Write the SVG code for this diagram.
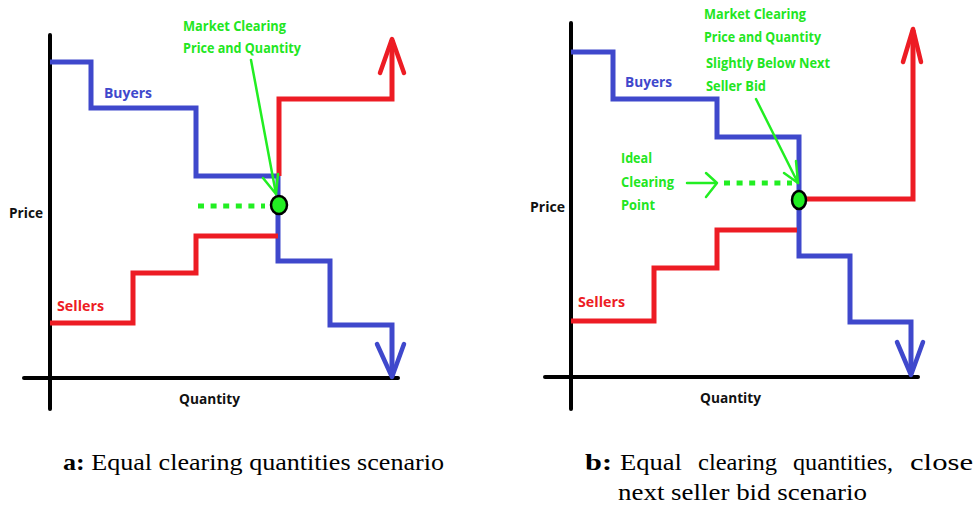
<svg xmlns="http://www.w3.org/2000/svg" width="976" height="505" viewBox="0 0 976 505">
<style>
.axis{stroke:#000;stroke-width:4;fill:none;stroke-linecap:round}
.buy{stroke:#3f48cc;stroke-width:5;fill:none;stroke-linejoin:miter}
.sell{stroke:#ed1c24;stroke-width:5;fill:none;stroke-linejoin:miter}
.ahb{stroke:#3f48cc;stroke-width:4.5;fill:none;stroke-linecap:round;stroke-linejoin:round}
.ahr{stroke:#ed1c24;stroke-width:4.5;fill:none;stroke-linecap:round;stroke-linejoin:round}
.dots{stroke:#22ee22;stroke-width:5;stroke-dasharray:6 6.6;fill:none}
.gar{stroke:#22ee22;stroke-width:2.5;fill:none;stroke-linecap:round;stroke-linejoin:round}
.pt{fill:#22ee22;stroke:#000;stroke-width:2.5}
.lbl{font-family:"Open Sans","Liberation Sans",sans-serif;font-weight:bold;font-size:15px}
.g{fill:#22e622}
.b{fill:#3f48cc}
.r{fill:#ed1c24}
.k{fill:#111}
.cap{font-family:"Liberation Serif","Times New Roman",serif;font-size:24px;fill:#000}
.bd{font-weight:bold}
</style>
<g id="panel-a">
  <g id="a-axes">
    <line class="axis" x1="50" y1="35" x2="50" y2="409"/>
    <line class="axis" x1="24" y1="378" x2="398" y2="378"/>
  </g>
  <g id="a-buyers">
    <polyline class="buy" points="50,62 91,62 91,108 196,108 196,176 278,176 278,261 330,261 330,325 392,325 392,376"/>
    <polyline class="ahb" points="377,344 392,377 404,344"/>
    <text class="lbl b" x="104" y="98" textLength="48" lengthAdjust="spacingAndGlyphs">Buyers</text>
  </g>
  <g id="a-sellers">
    <polyline class="sell" points="50,323 133,323 133,273 196,273 196,236 278,236"/>
    <polyline class="sell" points="279,176 279,99 392,99 392,40"/>
    <polyline class="ahr" points="380,73 392,39 404,73"/>
    <text class="lbl r" x="57" y="311" textLength="47" lengthAdjust="spacingAndGlyphs">Sellers</text>
  </g>
  <g id="a-labels">
    <text class="lbl k" x="9" y="218" textLength="34" lengthAdjust="spacingAndGlyphs">Price</text>
    <text class="lbl k" x="179" y="404" textLength="61" lengthAdjust="spacingAndGlyphs">Quantity</text>
  </g>
  <g id="a-clearing">
    <line class="dots" x1="198" y1="206" x2="265" y2="206"/>
    <ellipse class="pt" cx="279" cy="205" rx="8" ry="9"/>
    <line class="gar" x1="251" y1="60" x2="276" y2="194"/>
    <polyline class="gar" points="263,178 276,194 278,174"/>
    <text class="lbl g" x="183" y="31" textLength="103" lengthAdjust="spacingAndGlyphs">Market Clearing</text>
    <text class="lbl g" x="183" y="53" textLength="118" lengthAdjust="spacingAndGlyphs">Price and Quantity</text>
  </g>
</g>
<g id="panel-b">
  <g id="b-axes">
    <line class="axis" x1="571" y1="23" x2="571" y2="409"/>
    <line class="axis" x1="545" y1="377" x2="918" y2="377"/>
  </g>
  <g id="b-buyers">
    <polyline class="buy" points="571,52 613,52 613,99 717,99 717,137 799,137 799,256 850,256 850,322 911,322 911,374"/>
    <polyline class="ahb" points="897,342 911,375 923,342"/>
    <text class="lbl b" x="625" y="87" textLength="47" lengthAdjust="spacingAndGlyphs">Buyers</text>
  </g>
  <g id="b-sellers">
    <polyline class="sell" points="571,321 654,321 654,268 717,268 717,230 797,230"/>
    <polyline class="sell" points="805,199 913,199 913,30"/>
    <polyline class="ahr" points="903,62 913,29 921,62"/>
    <text class="lbl r" x="578" y="307" textLength="47" lengthAdjust="spacingAndGlyphs">Sellers</text>
  </g>
  <g id="b-labels">
    <text class="lbl k" x="530" y="212" textLength="35" lengthAdjust="spacingAndGlyphs">Price</text>
    <text class="lbl k" x="700" y="403" textLength="61" lengthAdjust="spacingAndGlyphs">Quantity</text>
  </g>
  <g id="b-clearing">
    <line class="dots" x1="724" y1="183" x2="792" y2="183"/>
    <ellipse class="pt" cx="799" cy="200" rx="7" ry="9"/>
    <line class="gar" x1="756" y1="99" x2="798" y2="183"/>
    <polyline class="gar" points="784,173 798,183 796,161"/>
    <line class="gar" x1="687" y1="183" x2="716" y2="183"/>
    <polyline class="gar" points="706,173 717,183 706,197"/>
    <text class="lbl g" x="704" y="19" textLength="102" lengthAdjust="spacingAndGlyphs">Market Clearing</text>
    <text class="lbl g" x="704" y="42" textLength="117" lengthAdjust="spacingAndGlyphs">Price and Quantity</text>
    <text class="lbl g" x="706" y="68" textLength="124" lengthAdjust="spacingAndGlyphs">Slightly Below Next</text>
    <text class="lbl g" x="706" y="91" textLength="60" lengthAdjust="spacingAndGlyphs">Seller Bid</text>
    <text class="lbl g" x="621" y="163" textLength="31" lengthAdjust="spacingAndGlyphs">Ideal</text>
    <text class="lbl g" x="621" y="187" textLength="53" lengthAdjust="spacingAndGlyphs">Clearing</text>
    <text class="lbl g" x="621" y="210" textLength="34" lengthAdjust="spacingAndGlyphs">Point</text>
  </g>
</g>
<g id="captions">
  <text class="cap" x="63" y="470" textLength="381" lengthAdjust="spacingAndGlyphs"><tspan class="bd">a:</tspan> Equal clearing quantities scenario</text>
  <text class="cap bd" x="585" y="470" textLength="27" lengthAdjust="spacingAndGlyphs">b:</text>
  <text class="cap" x="620" y="470" textLength="62" lengthAdjust="spacingAndGlyphs">Equal</text>
  <text class="cap" x="698" y="470" textLength="79" lengthAdjust="spacingAndGlyphs">clearing</text>
  <text class="cap" x="793" y="470" textLength="100" lengthAdjust="spacingAndGlyphs">quantities,</text>
  <text class="cap" x="910" y="470" textLength="63" lengthAdjust="spacingAndGlyphs">close</text>
  <text class="cap" x="618" y="500" textLength="249" lengthAdjust="spacingAndGlyphs">next seller bid scenario</text>
</g>
</svg>
